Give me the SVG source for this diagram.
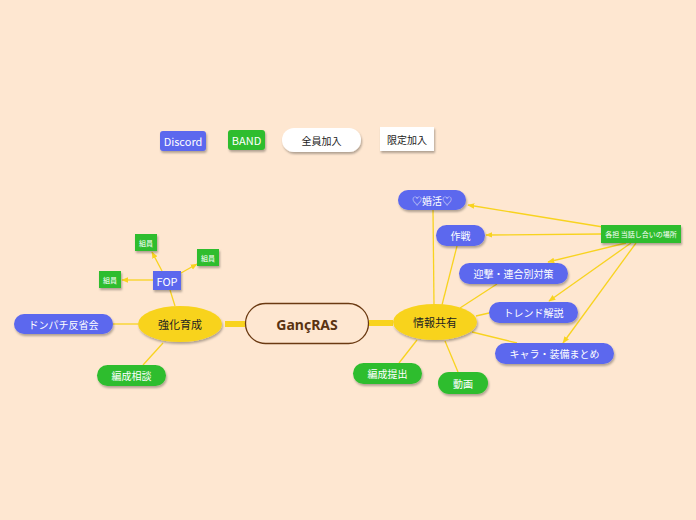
<svg xmlns="http://www.w3.org/2000/svg" width="696" height="520" viewBox="0 0 696 520">
<defs>
<filter id="sh" x="-20%" y="-30%" width="140%" height="170%">
<feDropShadow dx="1" dy="2" stdDeviation="1.2" flood-color="#000" flood-opacity="0.3"/>
</filter>
<marker id="ah" viewBox="0 0 10 10" refX="9" refY="5" markerWidth="7" markerHeight="7" markerUnits="userSpaceOnUse" orient="auto">
<path d="M0,1 L10,5 L0,9 Z" fill="#f8d31f"/>
</marker>
<style>
.t{font-family:"Noto Sans CJK JP","Noto Sans",sans-serif;text-anchor:middle;dominant-baseline:central}
.w{fill:#fff}
.k{fill:#222}
.blue{fill:#5c68ee;filter:url(#sh)}
.green{fill:#2ebd2e;filter:url(#sh)}
.yel{fill:#f8d31f;filter:url(#sh)}
.wh{fill:#fff;filter:url(#sh)}
.ln{stroke:#f8d31f;stroke-width:1.3;fill:none}
.ar{stroke:#f8d31f;stroke-width:1.3;fill:none;marker-end:url(#ah)}
.thick{stroke:#f8d31f;stroke-width:6;fill:none}
</style>
</defs>
<rect width="696" height="520" fill="#fee7d1"/>
<g id="connectors">
<line class="thick" x1="225" y1="324" x2="245" y2="324"/>
<line class="thick" x1="369" y1="323" x2="393" y2="323"/>
<line class="ln" x1="170" y1="290" x2="175" y2="306"/>
<line class="ar" x1="162" y1="271" x2="152" y2="252"/>
<line class="ar" x1="181" y1="273" x2="197" y2="264"/>
<line class="ar" x1="153" y1="280" x2="122" y2="280"/>
<line class="ln" x1="113" y1="324" x2="138" y2="324"/>
<line class="ln" x1="143" y1="365" x2="163" y2="343"/>
<line class="ln" x1="433" y1="210" x2="434" y2="305"/>
<line class="ln" x1="457" y1="246" x2="442" y2="305"/>
<line class="ln" x1="497" y1="284" x2="460" y2="308"/>
<line class="ln" x1="489" y1="313" x2="476" y2="316"/>
<line class="ln" x1="517" y1="343" x2="472" y2="332"/>
<line class="ln" x1="399" y1="363" x2="417" y2="340"/>
<line class="ln" x1="458" y1="372" x2="445" y2="341"/>
<line class="ar" x1="603" y1="227" x2="468" y2="205"/>
<line class="ar" x1="601" y1="234" x2="486" y2="235"/>
<line class="ar" x1="626" y1="243" x2="548" y2="262"/>
<line class="ar" x1="631" y1="243" x2="549" y2="301"/>
<line class="ar" x1="636" y1="243" x2="563" y2="343"/>
</g>
<g id="legend-discord"><rect class="blue" x="160" y="131" width="46" height="20" rx="3"/><text class="t w" x="183" y="141" font-size="11">Discord</text></g>
<g id="legend-band"><rect class="green" x="228" y="130" width="37" height="20" rx="3"/><text class="t w" x="246.5" y="140" font-size="11">BAND</text></g>
<g id="legend-all"><rect class="wh" x="282" y="128" width="79" height="24" rx="12"/><text class="t k" x="321.5" y="140" font-size="10">全員加入</text></g>
<g id="legend-limited"><rect class="wh" x="380" y="127" width="54" height="24"/><text class="t k" x="407" y="139" font-size="10">限定加入</text></g>
<g id="center"><rect x="245.5" y="303.5" width="123" height="40" rx="20" fill="#fee7d1" stroke="#6b3a12" stroke-width="1.3"/><text class="t" x="307" y="324" font-size="14" font-weight="bold" fill="#5a3311" style="font-family:'Noto Sans','DejaVu Sans',sans-serif">GançRAS</text></g>
<g id="kyouka"><ellipse class="yel" cx="180" cy="324" rx="42" ry="18"/><text class="t k" x="180" y="324" font-size="11">強化育成</text></g>
<g id="jouhou"><ellipse class="yel" cx="435" cy="322" rx="42" ry="18"/><text class="t k" x="435" y="322" font-size="11">情報共有</text></g>
<g id="fop"><rect class="blue" x="153" y="271" width="28" height="19"/><text class="t w" x="167" y="281" font-size="11">FOP</text></g>
<g id="kumiin1"><rect class="green" x="135" y="234" width="22" height="17"/><text class="t w" x="146" y="242.5" font-size="7">組員</text></g>
<g id="kumiin2"><rect class="green" x="197" y="249" width="22" height="17"/><text class="t w" x="208" y="257.5" font-size="7">組員</text></g>
<g id="kumiin3"><rect class="green" x="99" y="271" width="22" height="17"/><text class="t w" x="110" y="279.5" font-size="7">組員</text></g>
<g id="donpachi"><rect class="blue" x="14" y="314" width="99" height="20" rx="10"/><text class="t w" x="63.5" y="324" font-size="10">ドンパチ反省会</text></g>
<g id="hensei-soudan"><rect class="green" x="97" y="365" width="69" height="21" rx="10.5"/><text class="t w" x="131.5" y="375.5" font-size="10">編成相談</text></g>
<g id="konkatsu"><rect class="blue" x="398" y="190" width="68" height="20" rx="10"/><text class="t w" x="432" y="200" font-size="10">♡婚活♡</text></g>
<g id="sakusen"><rect class="blue" x="436" y="225" width="49" height="21" rx="10.5"/><text class="t w" x="460.5" y="235.5" font-size="10">作戦</text></g>
<g id="geigeki"><rect class="blue" x="459" y="263" width="109" height="21" rx="10.5"/><text class="t w" x="513.5" y="273.5" font-size="10">迎撃・連合別対策</text></g>
<g id="trend"><rect class="blue" x="489" y="302" width="89" height="21" rx="10.5"/><text class="t w" x="533.5" y="312.5" font-size="10">トレンド解説</text></g>
<g id="chara"><rect class="blue" x="495" y="343" width="119" height="21" rx="10.5"/><text class="t w" x="554.5" y="353.5" font-size="10">キャラ・装備まとめ</text></g>
<g id="hensei-teishutsu"><rect class="green" x="353" y="363" width="69" height="21" rx="10.5"/><text class="t w" x="387.5" y="373.5" font-size="10">編成提出</text></g>
<g id="douga"><rect class="green" x="438" y="372" width="50" height="22" rx="11"/><text class="t w" x="463" y="383" font-size="10">動画</text></g>
<g id="kakutan"><rect class="green" x="601" y="225" width="80" height="18"/><text class="t w" x="641" y="234" font-size="7">各担 当話し合いの場所</text></g>
</svg>
